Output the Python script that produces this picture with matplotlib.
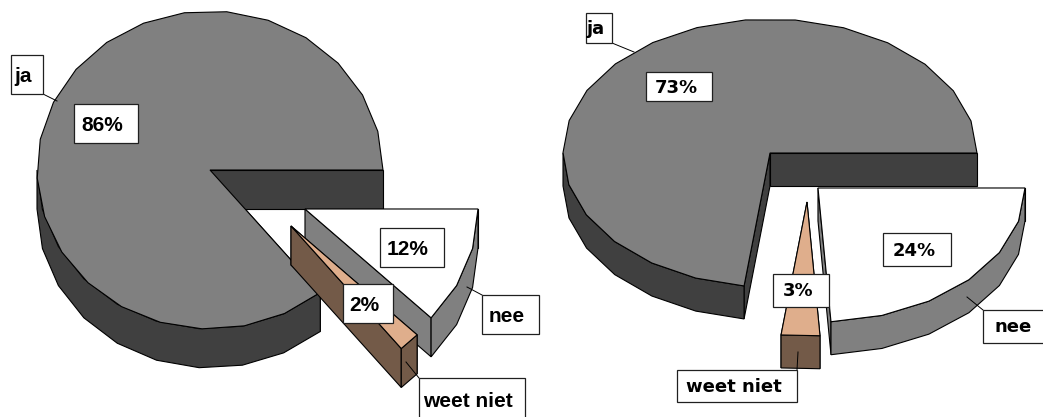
# 3D exploded pies, drawn by hand in pixel coords
import matplotlib
matplotlib.use('Agg')
import matplotlib.pyplot as plt
from matplotlib.patches import Polygon, Rectangle
import numpy as np

labels = ['ja', 'weet niet', 'nee']
values_left = [86, 2, 12]
values_right = [73, 3, 24]

top_colors = ['#808080', '#dfae8c', '#ffffff']
wall_colors = ['#404040', '#735a48', '#808080']

fig = plt.figure(figsize=(10.43, 4.17), dpi=100)
ax = fig.add_axes([0, 0, 1, 1])
ax.set_xlim(0, 1043)
ax.set_ylim(417, 0)
ax.axis('off')


def arc_points(cx, cy, rx, ry, start, end, step=14.4):
    # faceted arc, the original is not smooth
    n = max(int(np.ceil((end - start) / step - 1e-6)), 1)
    t = np.radians(np.linspace(start, end, n + 1))
    return np.column_stack([cx + rx * np.cos(t), cy - ry * np.sin(t)])


def draw_slice(apex, rx, ry, depth, start, end, top, wall):
    cx, cy = apex
    down = np.array([0, depth])
    a = np.array(apex, dtype=float)
    # straight walls, end one first so the start one stays on top
    for t in (end, start):
        p = arc_points(cx, cy, rx, ry, t, t)[0]
        ax.add_patch(Polygon([a, p, p + down, a + down], fc=wall, ec='black', lw=0.8, zorder=2))
    # outer wall, only the front half shows
    lo = max(start, 180)
    if end > lo:
        arc = arc_points(cx, cy, rx, ry, lo, end)
        ax.add_patch(Polygon(np.vstack([arc, (arc + down)[::-1]]), fc=wall, ec='black', lw=0.8, zorder=2))
    arc = arc_points(cx, cy, rx, ry, start, end)
    ax.add_patch(Polygon(np.vstack([a, arc]), fc=top, ec='black', lw=0.8, zorder=2))


def draw_pie(values, apexes, rx, ry, depth):
    edges = np.cumsum([0] + values) / sum(values) * 360
    # nee first, weet niet sits in front of it
    for i in (0, 2, 1):
        draw_slice(apexes[i], rx, ry, depth, edges[i], edges[i + 1], top_colors[i], wall_colors[i])


def label_box(x0, y0, x1, y1, text, font, size, shift, leader=None):
    if leader is not None:
        ax.plot(leader[0], leader[1], color='black', lw=0.7, zorder=3)
    ax.add_patch(Rectangle((x0, y0), x1 - x0, y1 - y0, fc='white', ec='#202020', lw=0.9, zorder=4))
    ax.text((x0 + x1) / 2 + shift[0], (y0 + y1) / 2 + shift[1], text, family=font, weight='bold',
            size=size, ha='center', va='center', color='black', zorder=5)


draw_pie(values_left, [(210, 170), (291, 226), (305, 209)], 173, 159, 39)
draw_pie(values_right, [(770, 153), (807, 202), (818, 188)], 207, 134, 33)

left_font = 'Liberation Sans'
right_font = 'DejaVu Sans'
ls = (-4, 2)
rs = (-3, 1)

label_box(11, 55, 43, 94, labels[0], left_font, 15, ls, ([43, 57], [94, 101]))
label_box(74, 104, 138, 143, '%d%%' % values_left[0], left_font, 15, ls)
label_box(380, 228, 444, 267, '%d%%' % values_left[2], left_font, 15, ls)
label_box(343, 284, 393, 323, '%d%%' % values_left[1], left_font, 15, ls)
label_box(482, 295, 539, 334, labels[2], left_font, 15, ls, ([482, 467], [295, 287]))
label_box(419, 378, 525, 421, labels[1], left_font, 15, ls, ([419, 406], [378, 362]))

label_box(586, 13, 612, 43, labels[0], right_font, 13, rs, ([612, 634], [43, 52]))
label_box(646, 72, 712, 101, '%d%%' % values_right[0], right_font, 13, rs)
label_box(883, 233, 951, 266, '%d%%' % values_right[2], right_font, 13, rs)
label_box(773, 274, 829, 307, '%d%%' % values_right[1], right_font, 13, rs)
label_box(983, 310, 1050, 343, labels[2], right_font, 13, rs, ([983, 967], [310, 297]))
label_box(677, 370, 797, 402, labels[1], right_font, 13, rs, ([797, 798], [370, 352]))

fig.savefig('out.png', dpi=100, facecolor='white')
